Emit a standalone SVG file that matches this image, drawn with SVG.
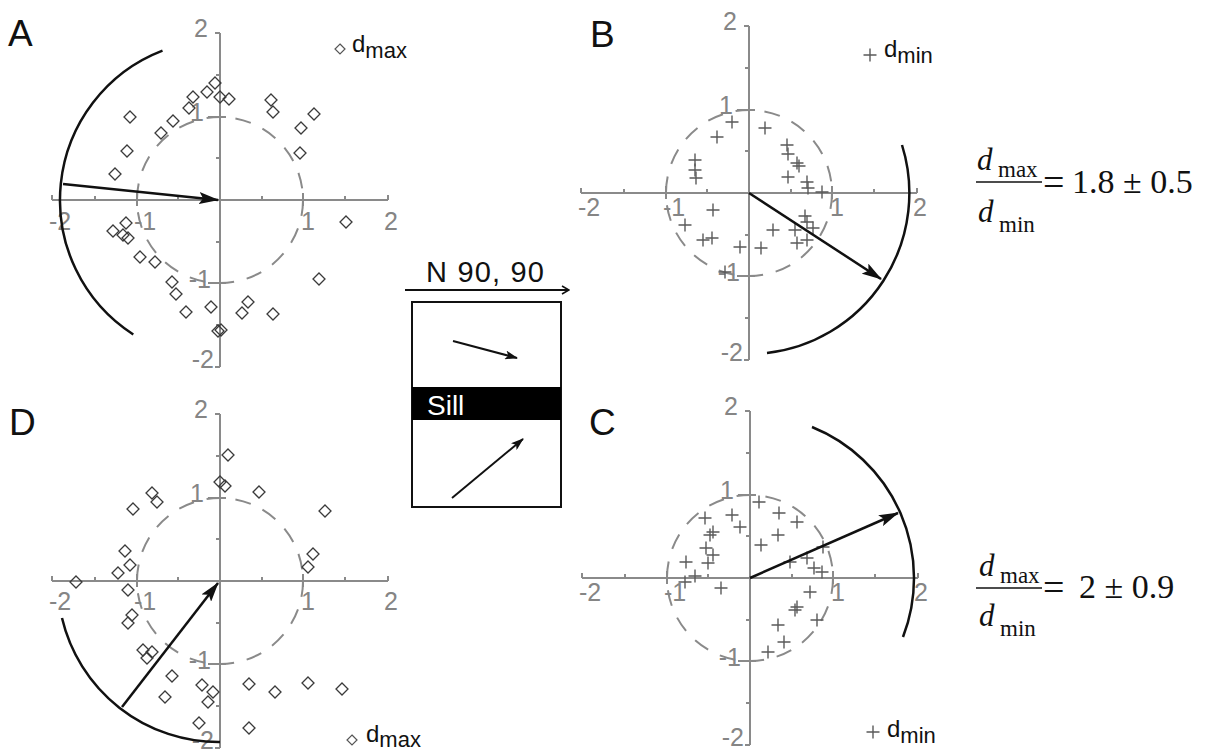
<svg xmlns="http://www.w3.org/2000/svg" width="1206" height="751" viewBox="0 0 1206 751">
<style>
.ax{stroke:#8a8a8a;stroke-width:2;fill:none}
.dash{stroke:#8a8a8a;stroke-width:2;fill:none;stroke-dasharray:16 13}
.tl{font-family:"Liberation Sans",Arial,sans-serif;font-size:25px;fill:#858585}
.lbl{font-family:"Liberation Sans",Arial,sans-serif;font-size:37px;fill:#111}
.leg{font-family:"Liberation Sans",Arial,sans-serif;font-size:24px;fill:#111}
.sub{font-size:22px}
.arc{stroke:#111;stroke-width:2.5;fill:none}
.arr{stroke:#111;stroke-width:2.5;fill:none;marker-end:url(#ah)}
.sarr{stroke:#111;stroke-width:2;fill:none;marker-end:url(#sah)}
.fm{font-family:"Liberation Serif","Times New Roman",serif;fill:#111}
.dv{font-style:italic;font-size:31px}
.fs{font-size:23px}
.num{font-size:34px}
.eq{font-size:38px}
</style>
<defs>
<marker id="ah" markerUnits="userSpaceOnUse" markerWidth="20" markerHeight="12" viewBox="0 0 20 12" refX="19" refY="6" orient="auto"><path d="M0,0 L20,6 L0,12 L4,6 Z" fill="#111"/></marker>
<marker id="sah" markerUnits="userSpaceOnUse" markerWidth="13" markerHeight="9" viewBox="0 0 13 9" refX="12" refY="4.5" orient="auto"><path d="M0,0 L13,4.5 L0,9 L3,4.5 Z" fill="#111"/></marker>
<marker id="oah" markerUnits="userSpaceOnUse" markerWidth="10" markerHeight="10" viewBox="0 0 10 10" refX="9" refY="5" orient="auto"><path d="M2,1 L9,5 L2,9" fill="none" stroke="#111" stroke-width="1.6"/></marker>
<path id="dm" d="M0,-6 L6,0 L0,6 L-6,0 Z" fill="none" stroke="#3a3a3a" stroke-width="1.3"/>
<path id="dml" d="M0,-5 L5,0 L0,5 L-5,0 Z" fill="none" stroke="#555" stroke-width="1.2"/>
<path id="cr" d="M-6.5,0 H6.5 M0,-6.5 V6.5" fill="none" stroke="#5a5a5a" stroke-width="1.4"/>
<g id="axes">
<path class="ax" d="M-168,0 H168 M0,-167 V167 M-5,-167 H0 M-5,167 H0"/>
<path class="ax" d="M-83,-7 V6 M83,-7 V6 M-12,-83 H6 M-12,83 H6 M-125,-4 V0 M-42,-4 V0 M42,-4 V0 M125,-4 V0 M-168,-5 V0 M168,-5 V0 M-4,-125 H0 M-4,-42 H0 M-4,42 H0 M-4,125 H0"/>
<circle class="dash" cx="0" cy="0" r="83"/>
<text class="tl" x="-12" y="-163" text-anchor="end">2</text>
<text class="tl" x="-16" y="-79" text-anchor="end">1</text>
<text class="tl" x="-9" y="88" text-anchor="end">-1</text>
<text class="tl" x="-6" y="168" text-anchor="end">-2</text>
</g>
<g id="xl">
<text class="tl" x="-171">-2</text>
<text class="tl" x="-86">-1</text>
<text class="tl" x="81">1</text>
<text class="tl" x="164">2</text>
</g>
</defs>

<g id="panelA">
<use href="#axes" transform="translate(220,200)"/>
<use href="#xl" transform="translate(220,230)"/>
<text class="lbl" x="8" y="46">A</text>
<use href="#dml" x="340" y="49"/>
<text class="leg" x="352" y="52">d<tspan class="sub" dy="6">max</tspan></text>
<g>
<use href="#dm" x="215" y="83"/><use href="#dm" x="207" y="92"/><use href="#dm" x="193" y="97"/><use href="#dm" x="220" y="97"/><use href="#dm" x="229" y="99"/><use href="#dm" x="189" y="108"/><use href="#dm" x="173" y="121"/><use href="#dm" x="130" y="117"/><use href="#dm" x="161" y="133"/><use href="#dm" x="271" y="100"/><use href="#dm" x="273" y="112"/><use href="#dm" x="314" y="114"/><use href="#dm" x="301" y="128"/><use href="#dm" x="300" y="153"/><use href="#dm" x="127" y="151"/><use href="#dm" x="115" y="174"/><use href="#dm" x="346" y="222"/><use href="#dm" x="126" y="223"/><use href="#dm" x="113" y="231"/><use href="#dm" x="128" y="238"/><use href="#dm" x="123" y="235"/><use href="#dm" x="140" y="257"/><use href="#dm" x="155" y="262"/><use href="#dm" x="172" y="282"/><use href="#dm" x="176" y="294"/><use href="#dm" x="186" y="312"/><use href="#dm" x="211" y="307"/><use href="#dm" x="248" y="302"/><use href="#dm" x="242" y="313"/><use href="#dm" x="273" y="314"/><use href="#dm" x="319" y="279"/><use href="#dm" x="218" y="331"/><use href="#dm" x="221" y="330"/>
</g>
<path class="arc" d="M162.5,50.7 A160,160 0 0 0 133.3,334.5"/>
</g>

<g id="panelB">
<use href="#axes" transform="translate(749,193)"/>
<use href="#xl" transform="translate(749,216)"/>
<text class="lbl" x="590" y="47">B</text>
<use href="#cr" x="870" y="55"/>
<text class="leg" x="884" y="57">d<tspan class="sub" dy="6">min</tspan></text>
<g>
<use href="#cr" x="732" y="122"/><use href="#cr" x="765" y="128"/><use href="#cr" x="717" y="137"/><use href="#cr" x="787" y="145"/><use href="#cr" x="788" y="154"/><use href="#cr" x="797" y="163"/><use href="#cr" x="799" y="166"/><use href="#cr" x="695" y="160"/><use href="#cr" x="695" y="170"/><use href="#cr" x="696" y="178"/><use href="#cr" x="788" y="177"/><use href="#cr" x="807" y="182"/><use href="#cr" x="808" y="188"/><use href="#cr" x="822" y="192"/><use href="#cr" x="713" y="210"/><use href="#cr" x="805" y="216"/><use href="#cr" x="807" y="222"/><use href="#cr" x="813" y="228"/><use href="#cr" x="685" y="225"/><use href="#cr" x="773" y="230"/><use href="#cr" x="795" y="230"/><use href="#cr" x="703" y="240"/><use href="#cr" x="712" y="238"/><use href="#cr" x="740" y="247"/><use href="#cr" x="761" y="248"/><use href="#cr" x="797" y="243"/><use href="#cr" x="807" y="240"/><use href="#cr" x="725" y="272"/>
</g>
<path class="arc" d="M902,145 A161,161 0 0 1 767,353"/>
</g>

<g id="panelC">
<use href="#axes" transform="translate(750,578)"/>
<use href="#xl" transform="translate(750,601)"/>
<text class="lbl" x="589" y="435">C</text>
<use href="#cr" x="873" y="732"/>
<text class="leg" x="887" y="737">d<tspan class="sub" dy="6">min</tspan></text>
<g>
<use href="#cr" x="759" y="502"/><use href="#cr" x="732" y="515"/><use href="#cr" x="705" y="518"/><use href="#cr" x="779" y="513"/><use href="#cr" x="797" y="522"/><use href="#cr" x="740" y="527"/><use href="#cr" x="713" y="532"/><use href="#cr" x="710" y="535"/><use href="#cr" x="778" y="535"/><use href="#cr" x="761" y="545"/><use href="#cr" x="706" y="548"/><use href="#cr" x="713" y="555"/><use href="#cr" x="708" y="563"/><use href="#cr" x="686" y="562"/><use href="#cr" x="790" y="562"/><use href="#cr" x="807" y="558"/><use href="#cr" x="823" y="547"/><use href="#cr" x="814" y="568"/><use href="#cr" x="822" y="572"/><use href="#cr" x="695" y="576"/><use href="#cr" x="685" y="582"/><use href="#cr" x="721" y="588"/><use href="#cr" x="810" y="592"/><use href="#cr" x="797" y="607"/><use href="#cr" x="795" y="610"/><use href="#cr" x="817" y="620"/><use href="#cr" x="778" y="625"/><use href="#cr" x="784" y="642"/><use href="#cr" x="768" y="652"/>
</g>
<path class="arc" d="M812,427 A163,163 0 0 1 903,637"/>
</g>

<g id="panelD">
<use href="#axes" transform="translate(220,581)"/>
<use href="#xl" transform="translate(220,610)"/>
<text class="lbl" x="9" y="435">D</text>
<use href="#dml" x="352" y="740"/>
<text class="leg" x="366" y="742">d<tspan class="sub" dy="5">max</tspan></text>
<g>
<use href="#dm" x="228" y="455"/><use href="#dm" x="220" y="482"/><use href="#dm" x="225" y="486"/><use href="#dm" x="259" y="492"/><use href="#dm" x="152" y="493"/><use href="#dm" x="157" y="502"/><use href="#dm" x="133" y="509"/><use href="#dm" x="325" y="511"/><use href="#dm" x="125" y="551"/><use href="#dm" x="313" y="554"/><use href="#dm" x="308" y="567"/><use href="#dm" x="130" y="565"/><use href="#dm" x="118" y="573"/><use href="#dm" x="76" y="582"/><use href="#dm" x="128" y="590"/><use href="#dm" x="132" y="615"/><use href="#dm" x="128" y="623"/><use href="#dm" x="143" y="650"/><use href="#dm" x="147" y="658"/><use href="#dm" x="152" y="652"/><use href="#dm" x="172" y="676"/><use href="#dm" x="165" y="697"/><use href="#dm" x="202" y="685"/><use href="#dm" x="213" y="692"/><use href="#dm" x="208" y="702"/><use href="#dm" x="249" y="684"/><use href="#dm" x="275" y="692"/><use href="#dm" x="308" y="683"/><use href="#dm" x="342" y="689"/><use href="#dm" x="199" y="723"/><use href="#dm" x="249" y="728"/>
</g>
<path class="arc" d="M62,618 A161,161 0 0 0 220,742"/>
</g>

<g id="sillBox">
<text x="426" y="282" font-family="'Liberation Sans',Arial,sans-serif" font-size="29" fill="#111" textLength="118" lengthAdjust="spacing">N 90, 90</text>
<rect x="412" y="302" width="149" height="205" fill="none" stroke="#111" stroke-width="2"/>
<rect x="412" y="387" width="149" height="33" fill="#000"/>
<text x="427" y="415" font-family="'Liberation Sans',Arial,sans-serif" font-size="28" fill="#fff">Sill</text>
</g>

<g id="formula1" class="fm">
<text class="dv" x="977" y="170">d</text>
<text class="fs" x="998" y="177">max</text>
<line x1="976" y1="182" x2="1042" y2="182" stroke="#111" stroke-width="1.5"/>
<text class="dv" x="978" y="222">d</text>
<text class="fs" x="999" y="232">min</text>
<text class="eq" x="1043" y="195">=</text>
<text class="num" x="1072" y="193">1.8 ± 0.5</text>
</g>

<g id="formula2" class="fm">
<text class="dv" x="979" y="576">d</text>
<text class="fs" x="1000" y="583">max</text>
<line x1="976" y1="588" x2="1042" y2="588" stroke="#111" stroke-width="1.5"/>
<text class="dv" x="979" y="626">d</text>
<text class="fs" x="1000" y="636">min</text>
<text class="eq" x="1043" y="600">=</text>
<text class="num" x="1079" y="598">2 ± 0.9</text>
</g>

<g id="connectors">
<line class="arr" x1="63" y1="184" x2="218" y2="200"/>
<line class="arr" x1="749" y1="193" x2="881" y2="279"/>
<line class="arr" x1="750" y1="578" x2="898" y2="513"/>
<line class="arr" x1="122" y1="707" x2="218" y2="583"/>
<line x1="405" y1="290" x2="569" y2="290" stroke="#111" stroke-width="2" marker-end="url(#oah)"/>
<line class="sarr" x1="453" y1="341" x2="517" y2="358"/>
<line class="sarr" x1="452" y1="498" x2="523" y2="439"/>
</g>
</svg>
